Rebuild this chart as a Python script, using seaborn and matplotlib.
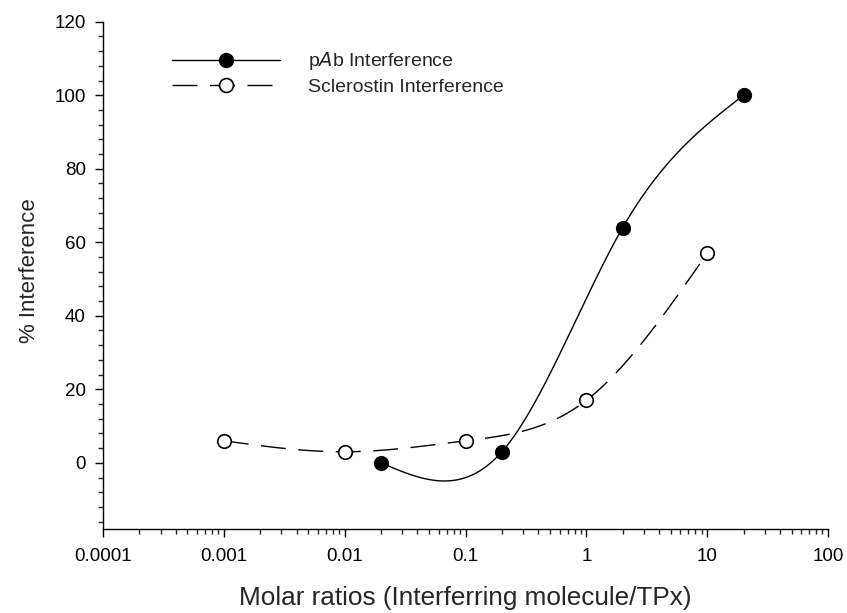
import numpy as np
import pandas as pd
import seaborn as sns
import matplotlib
matplotlib.use("Agg")
import matplotlib.pyplot as plt
from matplotlib.lines import Line2D
from matplotlib.ticker import LogLocator, MultipleLocator, FixedLocator

# ------------------------------
# Data
# ------------------------------
pab_ratio = [0.02, 0.2, 2, 20]
pab_interf = [0, 3, 64, 100]

scl_ratio = [0.001, 0.01, 0.1, 1, 10]
scl_interf = [6, 3, 6, 17, 57]

x_ticks = [0.0001, 0.001, 0.01, 0.1, 1, 10, 100]
x_tick_labels = ["0.0001", "0.001", "0.01", "0.1", "1", "10", "100"]
y_ticks = [0, 20, 40, 60, 80, 100, 120]


def spline_curve(xs, ys, n=300):
    # natural cubic spline through the points, in log10(x) space
    t = np.log10(np.asarray(xs, float))
    y = np.asarray(ys, float)
    k = len(t)
    h = np.diff(t)
    A = np.zeros((k, k))
    b = np.zeros(k)
    A[0, 0] = A[-1, -1] = 1
    for i in range(1, k - 1):
        A[i, i - 1] = h[i - 1]
        A[i, i] = 2 * (h[i - 1] + h[i])
        A[i, i + 1] = h[i]
        b[i] = 6 * ((y[i + 1] - y[i]) / h[i] - (y[i] - y[i - 1]) / h[i - 1])
    M = np.linalg.solve(A, b)
    tt = np.linspace(t[0], t[-1], n)
    idx = np.clip(np.searchsorted(t, tt) - 1, 0, k - 2)
    t0, t1 = t[idx], t[idx + 1]
    hh = t1 - t0
    a = (t1 - tt) / hh
    c = (tt - t0) / hh
    yy = (a * y[idx] + c * y[idx + 1]
          + ((a ** 3 - a) * M[idx] + (c ** 3 - c) * M[idx + 1]) * hh ** 2 / 6)
    return pd.DataFrame({"x": 10 ** tt, "y": yy})


pab_curve = spline_curve(pab_ratio, pab_interf)
scl_curve = spline_curve(scl_ratio, scl_interf)

# ------------------------------
# Plot
# ------------------------------
sns.set_style("ticks")
plt.rcParams["font.family"] = ["Liberation Sans", "DejaVu Sans"]

fig = plt.figure(figsize=(8.47, 6.13), dpi=100)
ax = fig.add_axes([103 / 847, 1 - 529 / 613, (828 - 103) / 847, (529 - 21.7) / 613])

scl_ls = (0, (18, 9))
sns.lineplot(data=scl_curve, x="x", y="y", ax=ax, color="black", lw=1.0,
             linestyle=scl_ls, sort=False)
sns.lineplot(data=pab_curve, x="x", y="y", ax=ax, color="black", lw=1.0,
             sort=False)
sns.scatterplot(x=scl_ratio, y=scl_interf, ax=ax, s=95, facecolor="white",
                edgecolor="black", linewidth=1.2, zorder=3)
sns.scatterplot(x=pab_ratio, y=pab_interf, ax=ax, s=95, color="black",
                edgecolor="black", linewidth=1.2, zorder=3)

ax.set_xscale("log")
ax.set_xlim(0.0001, 100)
ax.set_ylim(-18, 120)
ax.xaxis.set_major_locator(FixedLocator(x_ticks))
ax.set_xticklabels(x_tick_labels)
ax.xaxis.set_minor_locator(LogLocator(base=10, subs=np.arange(2, 10)))
ax.yaxis.set_major_locator(FixedLocator(y_ticks))
ax.yaxis.set_minor_locator(MultipleLocator(4))
ax.tick_params(which="major", direction="out", length=6, width=1, labelsize=13.5,
               colors="black")
ax.tick_params(axis="x", which="major", pad=8)
ax.tick_params(axis="y", which="major", pad=6.5)
ax.tick_params(which="minor", direction="out", length=3.5, width=1)
for s in ["left", "bottom"]:
    ax.spines[s].set_linewidth(1)
    ax.spines[s].set_color("black")
sns.despine(ax=ax)

ax.set_xlabel("Molar ratios (Interferring molecule/TPx)", fontsize=18.8, labelpad=15)
ax.set_ylabel("% Interference", fontsize=16, labelpad=10)
ax.yaxis.label.set_y(0.51)

handles = [
    Line2D([], [], color="black", lw=1.0, marker="o", markersize=10,
           markerfacecolor="black", markeredgecolor="black"),
    Line2D([], [], color="black", lw=1.0, linestyle=scl_ls, marker="o", markersize=10,
           markerfacecolor="white", markeredgecolor="black", markeredgewidth=1.2),
]
ax.legend(handles, [r"p$\it{A}$b Interference", "Sclerostin Interference"],
          loc="upper left", bbox_to_anchor=(172 / 847, 1 - 50.5 / 613),
          bbox_transform=fig.transFigure, frameon=False, fontsize=14,
          handlelength=5.57, handletextpad=1.45, borderpad=0, borderaxespad=0,
          labelspacing=0.3)

fig.savefig("out.png", dpi=100)
